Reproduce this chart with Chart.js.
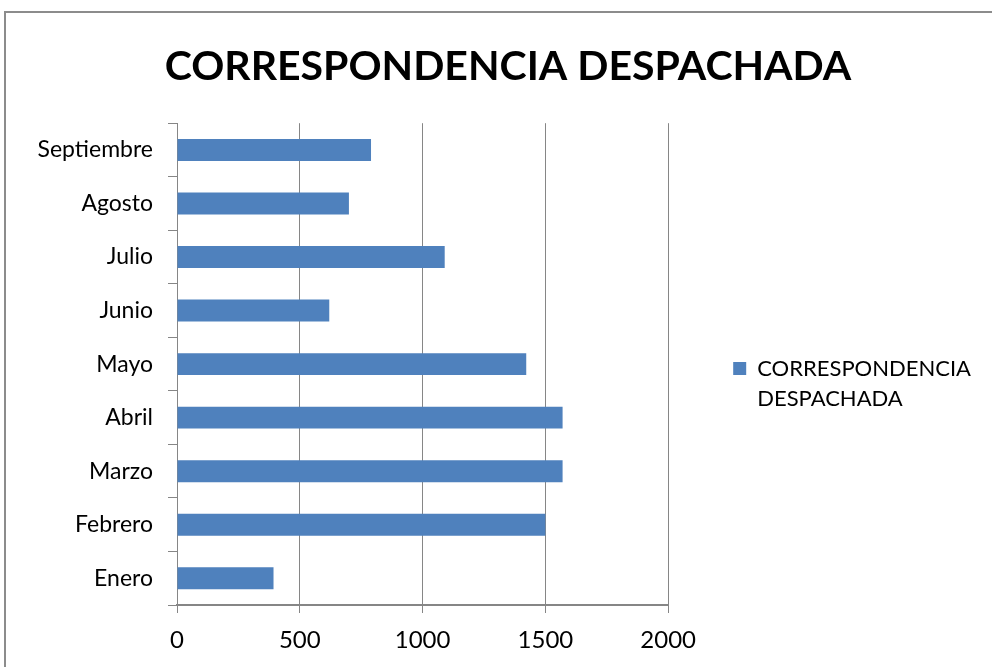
<!DOCTYPE html>
<html>
<head>
<meta charset="utf-8">
<script src="https://cdn.jsdelivr.net/npm/chart.js@4.4.0/dist/chart.umd.min.js"></script>
<style>
  html, body { margin: 0; padding: 0; background: #fff; }
  #wrap { position: relative; width: 992px; height: 667px; overflow: hidden; }
  #frame { position: absolute; left: 4px; top: 11px; width: 1100px; height: 800px;
           border-left: 2px solid #8c8c8c; border-top: 2px solid #8c8c8c; }
  canvas { position: absolute; left: 0; top: 0; }
</style>
</head>
<body>
<div id="wrap">
  <div id="frame"></div>
  <canvas id="barChart" width="992" height="667"></canvas>
</div>
<script>
var months = ["Septiembre", "Agosto", "Julio", "Junio", "Mayo", "Abril", "Marzo", "Febrero", "Enero"];
var despachada = [790, 700, 1090, 620, 1422, 1570, 1570, 1500, 393];
var xTicks = [0, 500, 1000, 1500, 2000];
var titleText = "CORRESPONDENCIA DESPACHADA";
var seriesName = ["CORRESPONDENCIA", "DESPACHADA"];

var fontFam = "Lato, 'Open Sans', sans-serif";
var gridGrey = "#868686";

var chartDiv = document.getElementById("barChart");
var myChart = new Chart(chartDiv, {
  type: "bar",
  data: {
    labels: months,
    datasets: [{
      label: seriesName.join(" "),
      data: despachada,
      backgroundColor: "#4F81BD",
      borderWidth: 0,
      barPercentage: 0.82,
      categoryPercentage: 0.5
    }]
  },
  options: {
    indexAxis: "y",
    responsive: false,
    animation: false,
    layout: { padding: { left: 35, right: 11, top: 0, bottom: 0 } },
    plugins: {
      title: {
        display: true,
        text: titleText,
        color: "#000",
        font: { family: fontFam, size: 41, weight: "bold" },
        padding: { top: 42, bottom: 32 }
      },
      legend: {
        display: true,
        position: "right",
        maxWidth: 340,
        title: {
          display: true,
          text: " ",
          color: "#000",
          font: { size: 1, lineHeight: 1 },
          padding: { top: 107, bottom: 0 }
        },
        labels: {
          color: "#000",
          font: { family: fontFam, size: 22, lineHeight: 1.36 },
          boxWidth: 13,
          boxHeight: 13,
          padding: 65,
          generateLabels: function (chart) {
            var ds = chart.data.datasets[0];
            return [{
              text: seriesName,
              fillStyle: ds.backgroundColor,
              strokeStyle: ds.backgroundColor,
              fontColor: "#000",
              lineWidth: 0,
              datasetIndex: 0
            }];
          }
        }
      },
      tooltip: { enabled: false }
    },
    scales: {
      x: {
        min: 0,
        max: 2000,
        afterBuildTicks: function (scale) {
          scale.ticks = xTicks.map(function (v) { return { value: v }; });
        },
        afterFit: function (scale) { scale.height = 62; },
        grid: { color: gridGrey, lineWidth: 1, tickLength: 8, drawOnChartArea: true },
        border: { color: gridGrey, width: 2 },
        ticks: {
          color: "#000",
          font: { family: fontFam, size: 24 },
          padding: 13,
          callback: function (v) { return String(v); }
        }
      },
      y: {
        afterFit: function (scale) { scale.width = 142; },
        grid: { color: gridGrey, lineWidth: 1, tickLength: 9, drawOnChartArea: false, offset: true },
        border: { color: gridGrey, width: 1 },
        ticks: { color: "#000", font: { family: fontFam, size: 23 }, padding: 15 }
      }
    }
  }
});
</script>
</body>
</html>
